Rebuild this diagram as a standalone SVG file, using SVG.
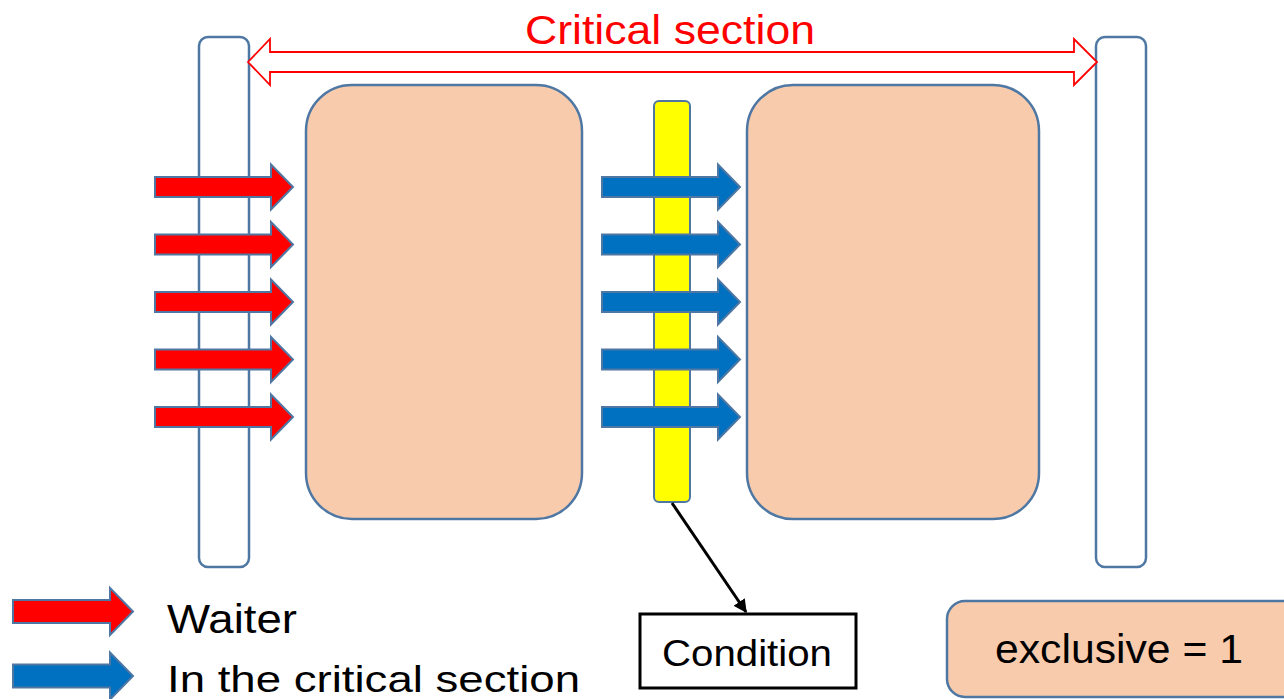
<svg xmlns="http://www.w3.org/2000/svg" width="1284" height="699" viewBox="0 0 1284 699">
  <style>
    .bar { fill: #FFFFFF; stroke: #4E77A3; stroke-width: 2.5; }
    .box { fill: #F8CBAD; stroke: #4E77A3; stroke-width: 2.5; }
    .red { fill: #FF0000; stroke: #4E77A3; stroke-width: 2; }
    .blue { fill: #0070C0; stroke: #4E77A3; stroke-width: 2; }
    .txt { font-family: "Liberation Sans", Arial, sans-serif; fill: #000000; }
  </style>
  <defs>
    <path id="arr" d="M0,-10 H116 V-22.5 L138,0 L116,22.5 V10 H0 Z"/>
    <path id="larr" d="M0,-11.5 H97 V-23.5 L120,0 L97,23.5 V11.5 H0 Z"/>
    <marker id="head" viewBox="0 0 10 10" refX="9" refY="5" markerWidth="4.5" markerHeight="4.5" orient="auto" markerUnits="strokeWidth">
      <path d="M0,0 L10,5 L0,10 Z" fill="#000000"/>
    </marker>
  </defs>

  <g id="left-bar"><rect class="bar" x="199" y="37" width="50" height="530" rx="9"/></g>
  <g id="right-bar"><rect class="bar" x="1096" y="37" width="50" height="530" rx="9"/></g>

  <g id="critical-section">
    <polygon points="248,62 270,39 270,52 1074,52 1074,39 1097,62 1074,85 1074,72 270,72 270,85" fill="#FFFFFF" stroke="#FF0000" stroke-width="1.8" stroke-linejoin="miter"/>
    <text x="670" y="44" text-anchor="middle" font-family="Liberation Sans, Arial, sans-serif" font-size="41" fill="#FF0000" textLength="290" lengthAdjust="spacingAndGlyphs">Critical section</text>
  </g>

  <g id="waiting-box"><rect class="box" x="306" y="85" width="276" height="434" rx="46"/></g>
  <g id="inside-box"><rect class="box" x="747" y="85" width="292" height="434" rx="46"/></g>

  <g id="condition-bar"><rect x="654" y="101" width="36" height="401" rx="5" fill="#FFFF00" stroke="#4E77A3" stroke-width="2"/></g>

  <g id="waiters">
    <use href="#arr" class="red" transform="translate(155,187)"/>
    <use href="#arr" class="red" transform="translate(155,244.5)"/>
    <use href="#arr" class="red" transform="translate(155,302)"/>
    <use href="#arr" class="red" transform="translate(155,359.5)"/>
    <use href="#arr" class="red" transform="translate(155,417)"/>
  </g>

  <g id="in-section">
    <use href="#arr" class="blue" transform="translate(602,187)"/>
    <use href="#arr" class="blue" transform="translate(602,244.5)"/>
    <use href="#arr" class="blue" transform="translate(602,302)"/>
    <use href="#arr" class="blue" transform="translate(602,359.5)"/>
    <use href="#arr" class="blue" transform="translate(602,417)"/>
  </g>

  <g id="connectors">
    <line x1="672" y1="503" x2="746" y2="612" stroke="#000000" stroke-width="3" marker-end="url(#head)"/>
  </g>

  <g id="condition">
    <rect x="640" y="614" width="216" height="74" fill="#FFFFFF" stroke="#000000" stroke-width="3"/>
    <text class="txt" x="747" y="666" text-anchor="middle" font-size="37" textLength="170" lengthAdjust="spacingAndGlyphs">Condition</text>
  </g>

  <g id="exclusive">
    <rect class="box" x="947" y="601" width="360" height="96" rx="18"/>
    <text class="txt" x="1119" y="663" text-anchor="middle" font-size="40" textLength="248" lengthAdjust="spacingAndGlyphs">exclusive = 1</text>
  </g>

  <g id="legend-waiter">
    <use href="#larr" class="red" transform="translate(13,611.5)"/>
    <text class="txt" x="167" y="633" font-size="40" textLength="130" lengthAdjust="spacingAndGlyphs">Waiter</text>
  </g>
  <g id="legend-inside">
    <use href="#larr" class="blue" transform="translate(13,676)"/>
    <text class="txt" x="167" y="692" font-size="37" textLength="413" lengthAdjust="spacingAndGlyphs">In the critical section</text>
  </g>
</svg>
